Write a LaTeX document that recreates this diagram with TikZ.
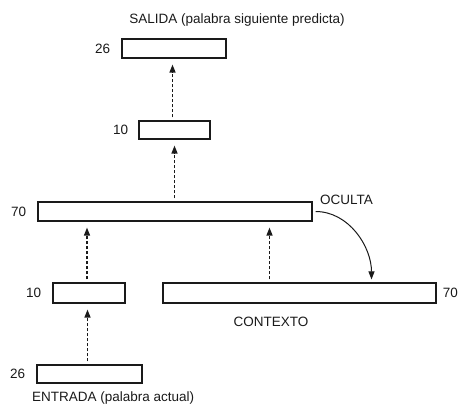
\documentclass[tikz,border=0pt]{standalone}
\usepackage{fontspec}
\setmainfont{Liberation Sans}
\usetikzlibrary{arrows.meta,positioning,calc}
\definecolor{ink}{HTML}{1A1A1A}
\tikzset{
  layerbox/.style={draw=ink,fill=white,line width=1.1pt,inner sep=0pt},
  sizelbl/.style={font=\fontsize{13.5}{16}\selectfont,text=ink,inner sep=0pt},
  namelbl/.style={font=\fontsize{13.5}{16}\selectfont,text=ink,inner sep=0pt},
  feedarr/.style={-{Triangle[length=8pt,width=6pt]},draw=ink,line width=1.2pt,
                  dash pattern=on 3pt off 2pt,shorten <=3pt,shorten >=6pt},
  copyarr/.style={-{Triangle[length=8pt,width=6pt]},draw=ink,line width=1.0pt,
                  shorten <=3pt,shorten >=3pt}
}

\begin{document}
\begin{tikzpicture}[x=1pt,y=-1pt]
  \useasboundingbox (0,0) rectangle (460,412);
  % ---- layers ----
  \node[layerbox,minimum width=104pt,minimum height=19pt] (salida) at (174,48.5) {};
  \node[layerbox,minimum width=71pt,minimum height=18pt] (oculta2) at (174.5,130) {};
  \node[layerbox,minimum width=274pt,minimum height=19pt] (oculta) at (175,211.5) {};
  \node[layerbox,minimum width=72pt,minimum height=20pt] (entrada10) at (89,293) {};
  \node[layerbox,minimum width=273pt,minimum height=20pt] (contexto) at (299.5,293) {};
  \node[layerbox,minimum width=105pt,minimum height=18pt] (entrada) at (89.5,374) {};
  % ---- sizes ----
  \node[sizelbl,left=11pt of salida] (nsalida) {26};
  \node[sizelbl,left=10pt of oculta2] (noculta2) {10};
  \node[sizelbl,left=11pt of oculta] (noculta) {70};
  \node[sizelbl,left=11pt of entrada10] (nentrada10) {10};
  \node[sizelbl,right=6pt of contexto] (ncontexto) {70};
  \node[sizelbl,left=11pt of entrada] (nentrada) {26};
  % ---- names ----
  \node[namelbl] (tsalida) at (237,20) {SALIDA (palabra siguiente predicta)};
  \node[namelbl,anchor=west] (toculta) at (320,200) {OCULTA};
  \node[namelbl] (tcontexto) at (271,322) {CONTEXTO};
  \node[namelbl,anchor=west] (tentrada) at (32,398) {ENTRADA (palabra actual)};
  % ---- connections ----
  \draw[feedarr] ([xshift=-2pt]entrada.north) -- ([xshift=-2pt]entrada.north |- entrada10.south);
  \draw[feedarr] ([xshift=-2pt]entrada10.north) -- ([xshift=-2pt]entrada10.north |- oculta.south);
  \draw[feedarr] ([xshift=-30pt]contexto.north) -- ([xshift=-30pt]contexto.north |- oculta.south);
  \draw[feedarr] ([xshift=-2pt]oculta2.north) -- ([xshift=-2pt]oculta2.north |- salida.south);
  \draw[feedarr] (oculta.north -| oculta2.north) -- (oculta2.south);
  \draw[copyarr] (oculta.east) to[out=0,in=90] ([xshift=72pt]contexto.north);
\end{tikzpicture}
\end{document}
